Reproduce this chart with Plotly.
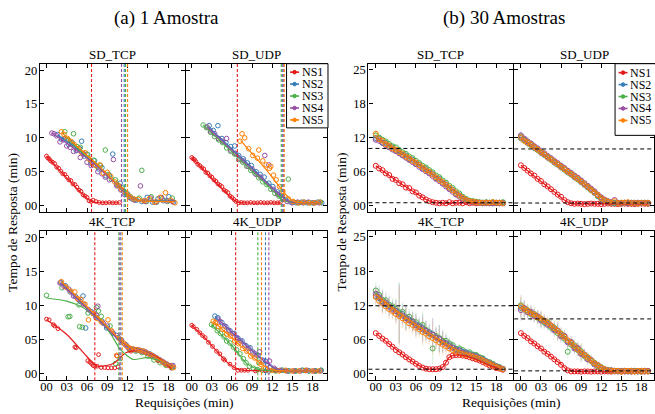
import plotly.graph_objects as go

# ---------------------------------------------------------------- settings
SERIES = ["NS1", "NS2", "NS3", "NS4", "NS5"]
COLORS = ["#e41a1c", "#377eb8", "#4daf4a", "#984ea3", "#ff7f00"]
panel_titles = ["SD_TCP", "SD_UDP", "4K_TCP", "4K_UDP"]

x_tick_vals = [0, 3, 6, 9, 12, 15, 18]
x_tick_text = ["00", "03", "06", "09", "12", "15", "18"]
y_tick_vals_1 = [0, 5, 10, 15, 20]
y_tick_text_1 = ["00", "05", "10", "15", "20"]
y_tick_vals_30 = [0, 6.25, 12.5, 18.75, 25]
y_tick_text_30 = ["00", "06", "12", "18", "25"]

# ================================================= (a) 1 Amostra, raw runs
# --- SD_TCP
a1_ns1_x = [0.0, 0.2, 0.4, 0.6, 0.9, 1.2, 1.5, 1.8, 2.1, 2.4, 2.7, 3.0, 3.3, 3.6, 3.9, 4.2, 4.5,
            4.8, 5.1, 5.4, 5.7, 6.0, 6.3, 6.6, 6.9, 7.3, 7.8, 8.3, 8.8, 9.3, 9.8, 10.3, 10.8]
a1_ns1_y = [7.3, 7.0, 6.9, 6.6, 6.4, 6.2, 5.7, 5.5, 5.1, 4.7, 4.6, 4.2, 3.8, 3.7, 3.2, 3.1, 2.7,
            2.3, 2.1, 1.6, 1.4, 1.2, 0.7, 0.6, 0.8, 0.6, 0.45, 0.4, 0.4, 0.45, 0.4, 0.4, 0.45]
a1_ns2_x = [1.6, 2.2, 2.7, 3.3, 3.8, 4.4, 4.9, 5.2, 5.6, 6.1, 6.6, 7.1, 7.7, 8.2, 8.8, 9.3, 9.8,
            10.4, 10.9, 11.4, 12.0, 12.6, 13.3, 14.1, 14.9, 15.7, 16.5, 17.3, 18.1, 18.8]
a1_ns2_y = [10.5, 9.8, 9.9, 9.0, 9.3, 8.1, 8.4, 9.5, 7.3, 7.5, 6.2, 6.6, 5.4, 5.6, 4.4, 4.5, 7.6,
            3.1, 3.3, 2.1, 1.7, 1.0, 0.8, 0.6, 1.2, 0.5, 1.0, 0.7, 1.3, 0.5]
a1_ns3_x = [2.7, 3.2, 3.7, 4.0, 4.5, 5.0, 5.5, 6.0, 6.5, 7.0, 7.5, 8.0, 8.7, 9.1, 9.6, 10.2, 10.7,
            11.2, 11.8, 12.4, 13.0, 13.7, 14.1, 14.8, 15.5, 16.3, 17.1, 17.9, 18.6]
a1_ns3_y = [10.9, 9.7, 9.1, 10.6, 8.7, 8.6, 7.6, 7.6, 6.6, 6.7, 5.8, 5.9, 8.2, 4.6, 3.9, 3.8, 2.9,
            2.6, 1.8, 1.3, 0.9, 1.1, 5.2, 0.6, 1.3, 0.5, 1.0, 0.6, 1.1]
a1_ns4_x = [0.8, 1.1, 1.5, 2.0, 2.5, 3.0, 3.5, 4.0, 4.5, 5.0, 5.5, 6.0, 6.6, 7.1, 7.6, 8.2, 8.7,
            9.3, 9.9, 10.4, 11.0, 11.6, 12.3, 13.0, 13.9, 14.6, 15.4, 16.2, 17.0, 17.8, 18.6]
a1_ns4_y = [10.7, 10.6, 10.3, 9.4, 9.7, 8.8, 8.6, 8.0, 8.2, 7.1, 7.6, 6.4, 5.9, 6.0, 5.0, 4.7, 4.2,
            3.8, 6.8, 2.9, 2.3, 1.6, 1.2, 0.8, 2.9, 0.6, 1.1, 0.5, 1.2, 0.7, 0.6]
a1_ns5_x = [2.2, 2.6, 3.1, 3.6, 4.1, 4.7, 5.2, 5.7, 6.3, 6.8, 7.3, 7.9, 8.4, 9.0, 9.5, 10.1, 10.6,
            11.1, 11.7, 12.2, 12.9, 13.6, 14.4, 15.2, 16.0, 16.8, 17.6, 18.4, 19.0]
a1_ns5_y = [10.9, 10.5, 9.9, 9.5, 9.0, 8.4, 7.8, 7.8, 6.9, 6.3, 5.9, 6.0, 4.8, 4.9, 4.3, 3.5, 3.0,
            2.4, 1.9, 1.4, 1.0, 0.9, 0.7, 1.0, 0.5, 1.2, 1.9, 0.8, 0.4]
a1_ns1_fx = [0.0, 6.6, 7.5, 10.8]
a1_ns1_fy = [7.3, 0.6, 0.45, 0.4]
a1_ns2_fx = [1.6, 4.0, 7.0, 10.0, 11.5, 12.5, 14.0, 19.0]
a1_ns2_fy = [10.4, 8.8, 6.3, 3.6, 2.1, 1.2, 0.7, 0.7]
a1_ns3_fx = [2.7, 5.0, 7.0, 10.0, 11.5, 12.5, 14.0, 19.0]
a1_ns3_fy = [10.3, 8.1, 6.4, 3.6, 2.1, 1.2, 0.7, 0.7]
a1_ns4_fx = [0.8, 4.0, 7.0, 10.0, 11.5, 12.5, 14.0, 19.0]
a1_ns4_fy = [10.7, 8.5, 6.2, 3.5, 2.1, 1.2, 0.7, 0.7]
a1_ns5_fx = [2.2, 5.0, 8.0, 10.0, 11.5, 12.5, 14.0, 19.0]
a1_ns5_fy = [10.8, 8.3, 5.6, 3.6, 2.2, 1.2, 0.7, 0.6]
a1_cut = [6.66, 11.5, 11.7, 11.1, 12.0]

# --- SD_UDP
a2_ns1_x = [0.0, 0.2, 0.4, 0.6, 0.9, 1.2, 1.5, 1.8, 2.1, 2.4, 2.7, 3.0, 3.3, 3.6, 3.9, 4.2, 4.5,
            4.8, 5.1, 5.4, 5.7, 6.0, 6.3, 6.6, 7.0, 7.4, 7.8, 8.3, 8.8, 9.3, 9.8, 10.3, 10.8,
            11.3, 11.8, 12.3, 12.8, 13.2]
a2_ns1_y = [7.1, 6.9, 6.8, 6.5, 6.1, 5.9, 5.6, 5.4, 4.9, 4.8, 4.4, 4.2, 3.8, 3.6, 3.2, 3.0, 2.8,
            2.3, 2.1, 1.9, 1.4, 1.2, 0.9, 0.6, 0.4, 0.45, 0.4, 0.4, 0.45, 0.4, 0.4, 0.45, 0.4,
            0.4, 0.45, 0.4, 0.4, 0.45]
a2_ns2_x = [2.6, 3.2, 3.9, 4.5, 5.1, 5.8, 6.4, 7.0, 7.7, 8.3, 8.9, 9.6, 10.2, 10.8, 11.5, 12.1,
            12.8, 13.4, 14.0, 14.8, 15.6, 16.4, 17.2, 18.0, 18.8, 19.4]
a2_ns2_y = [11.8, 11.1, 11.8, 9.9, 9.3, 8.7, 8.8, 7.4, 6.9, 6.3, 5.9, 5.0, 4.6, 4.2, 3.3, 2.8,
            2.0, 1.5, 0.9, 0.5, 0.4, 0.5, 0.4, 0.4, 0.5, 0.4]
a2_ns3_x = [1.7, 2.2, 2.8, 3.4, 4.0, 4.6, 5.2, 5.8, 6.4, 7.0, 7.6, 8.2, 8.8, 9.4, 10.0, 10.6,
            11.2, 11.8, 12.4, 13.0, 13.6, 14.4, 15.2, 16.0, 16.8, 17.6, 18.4, 19.2]
a2_ns3_y = [11.9, 11.5, 10.8, 10.2, 9.7, 9.3, 8.5, 8.0, 7.6, 6.8, 6.4, 5.8, 5.2, 4.8, 4.1, 3.5,
            3.1, 2.4, 1.8, 1.4, 0.9, 3.9, 0.5, 0.4, 0.5, 0.4, 0.4, 0.5]
a2_ns4_x = [2.3, 2.8, 3.4, 4.0, 4.6, 5.2, 5.8, 6.5, 7.1, 7.7, 8.4, 9.0, 9.6, 10.3, 10.9, 11.5,
            12.2, 12.8, 13.5, 14.2, 15.0, 15.8, 16.6, 17.4, 18.2, 19.0]
a2_ns4_y = [11.6, 11.0, 10.6, 9.9, 9.5, 9.9, 8.2, 7.7, 7.0, 6.6, 5.8, 5.4, 4.6, 4.2, 7.4, 6.0,
            2.4, 1.7, 1.2, 0.6, 0.4, 0.5, 0.4, 0.5, 0.4, 0.4]
a2_ns5_x = [7.2, 7.5, 7.9, 8.5, 9.1, 9.8, 10.0, 10.6, 11.1, 11.6, 11.8, 12.2, 12.6, 13.1, 13.6,
            14.4, 15.1, 15.9, 16.7, 17.5, 18.3, 19.1]
a2_ns5_y = [9.5, 10.6, 10.0, 8.4, 7.4, 7.0, 8.2, 6.6, 6.0, 5.5, 5.8, 4.5, 3.8, 2.8, 2.1,
            1.0, 0.6, 0.4, 0.5, 0.4, 0.4, 0.5]
a2_ns1_fx = [0.0, 6.6, 7.3, 13.3]
a2_ns1_fy = [7.1, 0.6, 0.42, 0.4]
a2_ns2_fx = [2.6, 8.0, 13.4, 14.6, 16.0, 19.4]
a2_ns2_fy = [11.5, 6.5, 1.4, 0.6, 0.4, 0.4]
a2_ns3_fx = [1.7, 7.0, 12.4, 13.6, 15.0, 19.4]
a2_ns3_fy = [11.9, 7.0, 1.9, 0.8, 0.45, 0.4]
a2_ns4_fx = [2.3, 8.0, 13.3, 14.4, 16.0, 19.2]
a2_ns4_fy = [11.6, 6.3, 1.4, 0.6, 0.4, 0.4]
a2_ns5_fx = [7.3, 11.0, 14.5, 15.5, 19.2]
a2_ns5_fy = [9.6, 5.4, 1.1, 0.5, 0.4]
a2_cut = [6.8, 13.5, 13.35, 13.65, 13.8]

# --- 4K_TCP
a3_ns1_x = [0.0, 0.4, 1.0, 1.2, 1.7, 4.2, 4.4, 6.1, 6.4, 6.65, 6.9, 7.15, 7.5, 7.7, 8.1, 8.6,
            9.1, 9.6, 10.1, 10.4, 10.6, 12.5, 13.5, 14.5, 15.5, 16.5, 17.5, 18.5]
a3_ns1_y = [8.0, 7.9, 7.2, 7.0, 6.6, 3.9, 3.8, 1.9, 1.7, 1.5, 1.2, 1.1, 1.1, 2.8, 0.9, 0.9,
            0.85, 0.85, 0.85, 2.6, 1.0, 3.3, 3.4, 3.1, 2.6, 1.9, 1.4, 0.8]
a3_ns2_x = [2.1, 2.8, 3.5, 4.3, 5.0, 5.4, 5.8, 6.6, 7.3, 8.2, 8.9, 9.9, 10.6, 11.1, 11.8, 12.3,
            12.8, 13.3, 13.8, 14.3, 14.8, 15.3, 15.8, 16.3, 16.8, 17.3, 17.8, 18.3, 18.7]
a3_ns2_y = [13.4, 12.9, 12.0, 11.3, 10.6, 11.4, 6.7, 9.1, 8.3, 7.7, 6.7, 5.9, 5.3, 4.9, 4.2, 3.7,
            3.6, 3.5, 3.4, 3.3, 3.1, 2.9, 2.6, 2.3, 2.0, 1.7, 1.4, 1.2, 1.0]
a3_ns3_x = [0.0, 2.3, 3.2, 3.45, 4.8, 4.9, 5.3, 6.15, 7.4, 7.7, 8.1, 9.4, 10.2, 10.9, 12.3, 13.2,
            14.1, 15.0, 15.9, 16.8, 17.7, 18.5]
a3_ns3_y = [11.5, 12.6, 8.35, 8.4, 10.1, 6.9, 6.8, 8.9, 9.7, 9.2, 8.4, 7.0, 1.5, 2.2, 3.5, 3.3,
            3.1, 2.6, 2.0, 1.6, 1.2, 0.9]
a3_ns4_x = [2.0, 2.6, 3.3, 4.0, 4.7, 5.5, 6.2, 7.0, 7.4, 7.6, 8.4, 9.0, 9.7, 10.4, 11.0, 11.6,
            12.1, 12.6, 13.1, 13.6, 14.1, 14.6, 15.1, 15.6, 16.1, 16.6, 17.1, 17.6, 18.1, 18.7]
a3_ns4_y = [13.3, 12.8, 12.4, 11.4, 10.9, 10.2, 9.4, 8.9, 8.55, 9.9, 7.4, 7.0, 6.1, 5.6, 5.0, 4.3,
            3.8, 3.6, 3.5, 3.5, 3.3, 3.2, 2.9, 2.7, 2.4, 2.1, 1.8, 1.5, 1.2, 1.2]
a3_ns5_x = [2.2, 2.9, 3.6, 4.2, 4.6, 5.1, 5.7, 6.2, 6.9, 7.5, 8.1, 9.1, 9.6, 10.4, 10.8, 11.4,
            11.9, 12.4, 12.9, 13.4, 13.9, 14.4, 14.9, 15.4, 15.9, 16.4, 16.9, 17.4, 17.9, 18.4, 18.8]
a3_ns5_y = [13.5, 12.7, 12.1, 12.0, 11.0, 10.9, 10.2, 7.9, 8.8, 8.1, 7.6, 7.9, 6.3, 2.7, 5.1, 4.5,
            4.0, 3.7, 3.6, 3.5, 3.4, 3.3, 3.0, 2.8, 2.5, 2.2, 1.9, 1.6, 1.3, 1.1, 0.9]
a3_ns1_fx = [0.0, 3.0, 5.9, 7.5, 9.9, 11.8, 14.0, 16.8, 18.5]
a3_ns1_fy = [7.9, 5.75, 2.6, 1.1, 1.5, 3.1, 3.4, 2.2, 0.7]
a3_ns2_fx = [2.1, 5.0, 8.0, 11.0, 12.8, 14.3, 16.3, 18.7]
a3_ns2_fy = [13.4, 10.6, 7.7, 4.8, 3.6, 3.35, 2.3, 1.0]
a3_ns3_fx = [0.0, 3.0, 5.4, 7.4, 9.4, 10.9, 12.8, 14.8, 16.8, 18.5]
a3_ns3_fy = [11.1, 10.65, 9.7, 8.2, 6.0, 3.6, 2.1, 2.35, 1.9, 1.1]
a3_ns4_fx = [2.0, 5.0, 8.0, 11.0, 12.8, 14.3, 16.3, 18.7]
a3_ns4_fy = [13.3, 10.5, 7.6, 4.7, 3.6, 3.35, 2.3, 1.1]
a3_ns5_fx = [2.2, 5.0, 8.0, 11.0, 12.8, 14.3, 16.3, 18.8]
a3_ns5_fy = [13.5, 10.8, 7.9, 4.9, 3.6, 3.3, 2.3, 0.9]
a3_cut = [7.15, 11.0, 10.7, 10.85, 11.2]

# --- 4K_UDP
a4_ns1_x = [0.0, 0.25, 0.75, 1.2, 1.6, 2.0, 2.5, 3.1, 3.7, 4.2, 4.7, 4.9, 5.7, 6.3, 6.9, 7.4,
            7.9, 8.4, 9.5, 11.0, 12.5, 14.0, 15.5, 17.0, 18.5]
a4_ns1_y = [7.1, 6.9, 6.5, 6.0, 5.6, 5.3, 4.6, 4.0, 3.3, 2.9, 2.2, 2.0, 1.4, 0.9, 0.5, 0.5,
            0.5, 0.5, 0.4, 0.4, 0.4, 0.4, 0.4, 0.4, 0.4]
a4_ns2_x = [3.45, 3.9, 4.5, 5.1, 5.7, 6.3, 6.9, 7.5, 8.1, 8.7, 9.3, 9.9, 10.5, 11.1, 11.7, 12.5,
            13.5, 14.5, 15.5, 16.5, 17.5, 18.5, 19.3]
a4_ns2_y = [8.45, 8.2, 7.5, 6.9, 6.3, 5.9, 5.2, 4.8, 4.1, 3.8, 3.0, 2.7, 2.0, 1.8, 1.0, 0.6,
            0.5, 0.4, 0.4, 0.5, 0.4, 0.4, 0.5]
a4_ns3_x = [2.95, 3.3, 3.8, 4.3, 4.8, 5.2, 5.7, 6.2, 6.7, 7.2, 7.7, 8.1, 8.6, 9.2, 9.8, 10.5,
            11.5, 12.5, 13.5, 14.5, 15.5, 16.5, 17.5, 18.5, 19.3]
a4_ns3_y = [7.2, 7.0, 6.3, 5.9, 5.4, 4.8, 4.5, 3.9, 3.5, 2.9, 2.2, 1.6, 1.1, 0.8, 0.6, 0.5,
            0.4, 0.4, 0.5, 0.4, 0.4, 0.5, 0.4, 0.4, 0.5]
a4_ns4_x = [3.9, 4.2, 4.9, 5.5, 6.1, 6.7, 7.3, 7.9, 8.5, 9.1, 9.7, 10.1, 10.7, 11.3, 11.6, 12.3,
            13.2, 14.2, 15.2, 16.2, 17.2, 18.2, 19.2]
a4_ns4_y = [8.0, 7.7, 7.0, 6.4, 5.9, 5.3, 4.8, 4.2, 3.7, 3.2, 2.7, 3.2, 1.9, 1.4, 1.85, 0.8,
            0.5, 0.4, 0.4, 0.4, 0.5, 0.4, 0.4]
a4_ns5_x = [3.2, 3.5, 4.0, 4.6, 5.2, 5.8, 6.4, 7.0, 7.6, 8.2, 8.8, 9.4, 10.0, 10.35, 11.0, 12.0,
            13.0, 14.0, 15.0, 16.0, 17.0, 18.0, 19.0]
a4_ns5_y = [7.7, 7.5, 6.9, 6.5, 5.8, 5.5, 4.8, 4.4, 3.7, 3.3, 2.6, 2.3, 1.6, 1.35, 0.8, 0.5,
            0.4, 0.5, 0.4, 0.4, 0.5, 0.4, 0.4]
a4_ns1_fx = [0.0, 2.0, 4.0, 5.5, 7.0, 9.0, 19.0]
a4_ns1_fy = [7.1, 5.2, 3.0, 1.5, 0.6, 0.45, 0.4]
a4_ns2_fx = [3.45, 7.0, 10.5, 12.5, 14.0, 19.3]
a4_ns2_fy = [8.4, 5.2, 2.1, 0.7, 0.45, 0.45]
a4_ns3_fx = [2.95, 6.0, 8.3, 10.0, 12.0, 19.3]
a4_ns3_fy = [7.2, 4.1, 1.4, 0.6, 0.45, 0.45]
a4_ns4_fx = [3.9, 7.0, 10.5, 12.5, 14.0, 19.2]
a4_ns4_fy = [8.0, 5.1, 2.1, 0.8, 0.45, 0.45]
a4_ns5_fx = [3.2, 6.5, 9.5, 11.5, 13.0, 19.0]
a4_ns5_fy = [7.7, 4.8, 2.1, 0.7, 0.45, 0.4]
a4_cut = [6.55, 11.0, 9.86, 11.5, 10.4]

# ============================================== (b) 30 Amostras, averages
t30 = [0.0, 0.5, 1.0, 1.5, 2.0, 2.5, 3.0, 3.5, 4.0, 4.5, 5.0, 5.5, 6.0, 6.5, 7.0, 7.5, 8.0, 8.5,
       9.0, 9.5, 10.0, 10.5, 11.0, 11.5, 12.0, 12.5, 13.0, 13.5, 14.0, 14.5, 15.0, 15.5, 16.0,
       16.5, 17.0, 17.5, 18.0, 18.5, 19.0]

# --- SD_TCP
b1_ns1 = [7.3, 6.8, 6.5, 5.9, 5.6, 4.9, 4.7, 4.1, 3.9, 3.3, 3.2, 2.6, 2.4, 1.8, 1.5, 1.1, 0.8,
          0.6, 0.5, 0.4, 0.5, 0.4, 0.6, 0.4, 0.5, 0.5, 0.4, 0.6, 0.4, 0.5, 0.4, 0.5, 0.4, 0.5,
          0.4, 0.5, 0.4, 0.5, 0.4]
b1_ns2 = [12.4, 12.3, 11.6, 11.5, 10.8, 10.7, 10.1, 10.0, 9.3, 9.2, 8.5, 8.4, 7.7, 7.5, 6.8,
          6.7, 6.0, 5.8, 5.0, 4.9, 4.1, 3.9, 3.1, 2.9, 2.1, 1.9, 1.3, 1.0, 0.8, 0.7, 0.6, 0.5,
          0.5, 0.4, 0.5, 0.4, 0.5, 0.4, 0.5]
b1_ns3 = [12.9, 12.5, 12.1, 11.8, 11.3, 10.9, 10.7, 10.2, 9.8, 9.5, 9.0, 8.7, 8.2, 7.8, 7.3,
          7.0, 6.5, 6.1, 5.5, 5.2, 4.6, 4.2, 3.6, 3.2, 2.6, 2.2, 1.6, 1.2, 0.9, 0.8, 0.7, 0.6,
          0.5, 0.6, 0.5, 0.6, 0.5, 0.5, 0.6]
b1_ns4 = [12.1, 11.9, 11.5, 11.1, 10.7, 10.3, 10.0, 9.6, 9.2, 8.8, 8.4, 8.0, 7.6, 7.1, 6.7,
          6.3, 5.9, 5.4, 4.9, 4.5, 4.0, 3.5, 3.0, 2.5, 2.0, 1.6, 1.2, 0.9, 0.7, 0.6, 0.5, 0.5,
          0.4, 0.5, 0.4, 0.4, 0.5, 0.4, 0.4]
b1_ns5 = [13.2, 12.2, 11.9, 11.3, 11.0, 10.5, 10.3, 9.8, 9.5, 9.0, 8.7, 8.2, 7.9, 7.4, 7.0,
          6.5, 6.2, 5.7, 5.2, 4.7, 4.3, 3.8, 3.3, 2.8, 2.3, 1.8, 1.4, 1.0, 0.8, 0.7, 0.6, 0.5,
          0.5, 0.5, 0.5, 0.6, 0.5, 0.5, 0.4]
b1_spread = [0.7, 0.6, 0.6, 0.5, 0.6, 0.5, 0.5, 0.6, 0.5, 0.5, 0.6, 0.5, 0.5, 0.6, 0.5, 0.5,
             0.5, 0.5, 0.4, 0.5, 0.4, 0.4, 0.4, 0.3, 0.3, 0.3, 0.3, 0.2, 0.2, 0.2, 0.2, 0.2,
             0.2, 0.2, 0.2, 0.2, 0.2, 0.2, 0.2]
b1_fit_lo_t = [0.0, 2.0, 4.0, 6.0, 7.5, 9.0, 12.0, 19.0]
b1_fit_lo = [7.3, 5.5, 3.8, 2.3, 1.1, 0.5, 0.45, 0.45]
b1_fit_hi_t = [0.0, 3.0, 6.0, 9.0, 11.0, 12.5, 14.0, 16.0, 19.0]
b1_fit_hi = [12.5, 10.3, 7.9, 5.2, 3.3, 1.8, 0.8, 0.5, 0.45]
b1_ref = [0.5, 10.5]

# --- SD_UDP
b2_ns1 = [7.4, 6.9, 6.4, 5.9, 5.5, 4.9, 4.5, 3.9, 3.5, 3.0, 2.5, 2.0, 1.6, 1.0, 0.6, 0.4, 0.3,
          0.35, 0.3, 0.25, 0.3, 0.35, 0.3, 0.3, 0.25, 0.3, 0.35, 0.3, 0.3, 0.25, 0.3, 0.35,
          0.3, 0.3, 0.25, 0.3, 0.35, 0.3, 0.3]
b2_ns2 = [12.4, 12.1, 11.5, 11.3, 10.6, 10.3, 9.7, 9.3, 8.8, 8.5, 7.9, 7.5, 7.0, 6.7, 6.1,
          5.7, 5.2, 4.9, 4.3, 3.8, 3.3, 2.9, 2.3, 1.7, 1.2, 0.9, 0.6, 0.5, 0.4, 0.5, 0.4, 0.4,
          0.5, 0.4, 0.4, 0.5, 0.4, 0.4, 0.5]
b2_ns3 = [12.7, 12.0, 11.7, 11.1, 10.8, 10.2, 9.9, 9.4, 9.0, 8.4, 8.1, 7.6, 7.2, 6.6, 6.3,
          5.8, 5.4, 4.8, 4.5, 3.9, 3.5, 2.8, 2.5, 1.8, 1.4, 1.0, 0.7, 0.5, 0.5, 0.4, 0.5, 0.5,
          0.4, 0.5, 0.5, 0.4, 0.5, 0.5, 0.4]
b2_ns4 = [12.9, 12.3, 11.8, 11.4, 10.9, 10.5, 10.0, 9.6, 9.1, 8.7, 8.2, 7.8, 7.3, 6.9, 6.4,
          6.0, 5.5, 5.1, 4.6, 4.1, 3.6, 3.1, 2.6, 2.0, 1.5, 1.1, 0.8, 0.6, 1.0, 0.5, 0.4, 0.5,
          0.4, 0.5, 0.4, 0.5, 0.4, 0.5, 0.4]
b2_ns5 = [12.5, 11.9, 11.6, 11.2, 10.7, 10.3, 9.8, 9.4, 8.9, 8.5, 8.0, 7.6, 7.1, 6.7, 6.2,
          5.8, 5.3, 4.9, 4.4, 3.9, 3.4, 2.9, 2.4, 1.9, 1.3, 1.0, 0.7, 0.5, 0.8, 0.4, 0.5, 0.5,
          0.6, 0.4, 0.5, 0.4, 0.5, 0.4, 0.5]
b2_spread = [0.9, 0.8, 0.9, 0.7, 0.8, 0.7, 0.8, 0.7, 0.8, 0.7, 0.8, 0.7, 0.7, 0.8, 0.7, 0.7,
             0.8, 0.7, 0.6, 0.7, 0.6, 0.6, 0.5, 0.5, 0.4, 0.4, 0.3, 0.3, 0.3, 0.2, 0.2, 0.2,
             0.2, 0.2, 0.2, 0.2, 0.2, 0.2, 0.2]
b2_fit_lo_t = [0.0, 3.0, 5.0, 6.5, 7.5, 9.0, 19.0]
b2_fit_lo = [7.4, 4.4, 2.5, 1.0, 0.35, 0.3, 0.3]
b2_fit_hi_t = [0.0, 3.0, 6.0, 9.0, 11.0, 12.5, 13.5, 15.0, 19.0]
b2_fit_hi = [12.5, 9.8, 7.1, 4.4, 2.6, 1.0, 0.5, 0.45, 0.45]
b2_ref = [0.45, 10.4]

# --- 4K_TCP
b3_ns1 = [7.4, 6.9, 6.4, 6.0, 5.4, 4.9, 4.3, 3.9, 3.5, 3.0, 2.6, 2.2, 1.8, 1.4, 1.1, 0.9, 0.8,
          0.8, 0.8, 0.9, 1.2, 2.0, 3.0, 3.3, 3.4, 3.4, 3.3, 3.2, 3.0, 2.8, 2.6, 2.4, 2.1, 1.8,
          1.5, 1.3, 1.0, 0.9, 0.7]
b3_ns2 = [14.2, 13.8, 13.2, 12.7, 12.3, 12.0, 11.5, 11.2, 10.9, 10.2, 9.9, 9.6, 9.0, 8.8, 8.4,
          7.8, 7.6, 7.2, 6.6, 6.4, 5.9, 5.6, 5.2, 4.8, 4.5, 4.3, 4.0, 3.9, 3.6, 3.4, 3.3, 2.9,
          2.7, 2.3, 2.0, 1.7, 1.4, 1.1, 0.9]
b3_ns3 = [15.2, 14.4, 13.5, 13.4, 12.6, 12.3, 11.8, 11.0, 11.3, 10.3, 10.4, 9.5, 9.4, 8.6, 8.9,
          8.0, 7.4, 4.6, 6.9, 6.5, 6.0, 6.0, 5.5, 5.2, 4.4, 4.6, 4.3, 3.7, 3.9, 3.5, 3.4, 3.0,
          2.8, 2.2, 2.1, 1.8, 1.3, 1.2, 0.8]
b3_ns4 = [14.6, 14.0, 13.1, 13.0, 12.2, 11.7, 11.4, 10.8, 10.6, 10.1, 9.7, 9.4, 8.8, 8.5, 8.1,
          7.8, 7.3, 7.1, 6.6, 6.3, 5.7, 5.5, 5.0, 4.7, 4.3, 4.2, 3.8, 3.7, 3.4, 3.3, 3.1, 2.8,
          2.5, 2.2, 1.9, 1.6, 1.3, 1.1, 0.8]
b3_ns5 = [14.0, 13.3, 12.8, 12.3, 11.8, 11.4, 10.9, 10.5, 10.1, 9.7, 9.2, 8.9, 8.4, 8.1, 7.6,
          7.3, 6.8, 6.5, 6.1, 5.7, 5.3, 5.0, 4.6, 4.3, 4.0, 3.8, 3.6, 3.4, 3.3, 3.1, 2.9, 2.7,
          2.4, 2.1, 1.8, 1.5, 1.2, 1.0, 0.8]
b3_spread = [1.5, 1.8, 2.0, 1.5, 1.8, 1.5, 2.0, 5.5, 1.8, 2.2, 1.5, 1.8, 2.0, 1.5, 2.5, 1.8,
             1.5, 3.0, 1.8, 2.5, 2.0, 1.5, 1.2, 1.0, 0.8, 0.8, 0.7, 0.7, 0.6, 0.6, 0.6, 0.5,
             0.5, 0.5, 0.4, 0.4, 0.4, 0.3, 0.3]
b3_fit_lo_t = [0.0, 2.0, 4.0, 6.0, 7.5, 9.0, 10.0, 11.0, 12.0, 13.5, 15.0, 17.0, 19.0]
b3_fit_lo = [7.4, 5.4, 3.5, 1.8, 0.9, 0.8, 1.2, 3.0, 3.4, 3.2, 2.6, 1.5, 0.7]
b3_fit_hi_t = [0.0, 3.0, 6.0, 9.0, 12.0, 15.0, 17.0, 19.0]
b3_fit_hi = [14.5, 11.6, 9.0, 6.6, 4.4, 3.0, 2.0, 0.8]
b3_ref = [0.8, 12.4]

# --- 4K_UDP
b4_ns1 = [7.4, 6.9, 6.5, 5.9, 5.5, 5.0, 4.6, 4.0, 3.6, 3.1, 2.6, 2.1, 1.6, 1.0, 0.6, 0.4, 0.4,
          0.4, 0.35, 0.4, 0.4, 0.35, 0.4, 0.4, 0.35, 0.4, 0.4, 0.35, 0.4, 0.4, 0.35, 0.4, 0.4,
          0.35, 0.4, 0.4, 0.35, 0.4, 0.4]
b4_ns2 = [12.0, 11.9, 11.3, 11.1, 10.6, 10.4, 9.8, 9.5, 9.1, 8.7, 8.1, 7.8, 7.0, 6.8, 5.9, 5.7,
          4.8, 4.5, 3.7, 3.4, 2.7, 2.4, 1.7, 1.5, 1.0, 0.7, 0.6, 0.5, 0.5, 0.4, 0.5, 0.5, 0.4,
          0.5, 0.5, 0.4, 0.5, 0.5, 0.4]
b4_ns3 = [12.5, 11.7, 11.6, 10.9, 10.9, 10.2, 10.0, 9.3, 9.4, 8.4, 8.4, 7.4, 7.3, 6.4, 4.0,
          5.3, 5.2, 4.3, 4.1, 3.2, 3.0, 2.3, 2.0, 1.3, 1.2, 0.8, 0.7, 0.6, 0.5, 0.5, 0.4, 0.5,
          0.5, 0.4, 0.5, 0.5, 0.4, 0.5, 0.5]
b4_ns4 = [11.6, 12.0, 11.2, 11.3, 10.5, 10.5, 9.7, 9.7, 8.9, 8.8, 7.9, 7.9, 6.8, 6.9, 5.7, 5.8,
          4.6, 4.7, 3.6, 3.5, 2.6, 2.5, 1.7, 1.6, 1.0, 0.8, 0.6, 0.6, 0.5, 0.5, 0.5, 0.4, 0.5,
          0.5, 0.4, 0.5, 0.5, 0.4, 0.5]
b4_ns5 = [12.3, 11.8, 11.5, 11.0, 10.8, 10.3, 10.1, 9.6, 9.3, 8.8, 8.3, 7.8, 7.2, 6.7, 6.1, 5.6,
          5.0, 4.4, 3.9, 3.4, 2.9, 2.4, 1.9, 1.5, 1.1, 0.8, 0.6, 0.5, 0.5, 0.5, 0.4, 0.5, 0.5,
          0.5, 0.4, 0.5, 0.5, 0.5, 0.4]
b4_spread = [2.0, 1.5, 1.2, 1.3, 1.2, 1.2, 1.5, 1.2, 1.1, 1.2, 1.2, 1.6, 1.2, 1.1, 1.2, 1.1,
             1.1, 1.2, 1.5, 1.1, 1.0, 0.9, 0.8, 0.6, 0.5, 0.4, 0.3, 0.3, 0.2, 0.2, 0.2, 0.2,
             0.2, 0.2, 0.2, 0.2, 0.2, 0.2, 0.2]
b4_fit_lo_t = [0.0, 2.0, 4.0, 6.0, 7.0, 8.0, 19.0]
b4_fit_lo = [7.4, 5.5, 3.6, 1.7, 0.6, 0.4, 0.4]
b4_fit_hi_t = [0.0, 3.0, 5.0, 7.0, 9.0, 11.0, 12.5, 14.0, 19.0]
b4_fit_hi = [12.2, 10.1, 8.3, 6.1, 3.9, 1.9, 0.8, 0.5, 0.45]
b4_ref = [0.5, 10.0]

# ---------------------------------------------------------------- assembly
one_sample = [
    [(a1_ns1_x, a1_ns1_y, a1_ns1_fx, a1_ns1_fy), (a1_ns2_x, a1_ns2_y, a1_ns2_fx, a1_ns2_fy),
     (a1_ns3_x, a1_ns3_y, a1_ns3_fx, a1_ns3_fy), (a1_ns4_x, a1_ns4_y, a1_ns4_fx, a1_ns4_fy),
     (a1_ns5_x, a1_ns5_y, a1_ns5_fx, a1_ns5_fy)],
    [(a2_ns1_x, a2_ns1_y, a2_ns1_fx, a2_ns1_fy), (a2_ns2_x, a2_ns2_y, a2_ns2_fx, a2_ns2_fy),
     (a2_ns3_x, a2_ns3_y, a2_ns3_fx, a2_ns3_fy), (a2_ns4_x, a2_ns4_y, a2_ns4_fx, a2_ns4_fy),
     (a2_ns5_x, a2_ns5_y, a2_ns5_fx, a2_ns5_fy)],
    [(a3_ns1_x, a3_ns1_y, a3_ns1_fx, a3_ns1_fy), (a3_ns2_x, a3_ns2_y, a3_ns2_fx, a3_ns2_fy),
     (a3_ns3_x, a3_ns3_y, a3_ns3_fx, a3_ns3_fy), (a3_ns4_x, a3_ns4_y, a3_ns4_fx, a3_ns4_fy),
     (a3_ns5_x, a3_ns5_y, a3_ns5_fx, a3_ns5_fy)],
    [(a4_ns1_x, a4_ns1_y, a4_ns1_fx, a4_ns1_fy), (a4_ns2_x, a4_ns2_y, a4_ns2_fx, a4_ns2_fy),
     (a4_ns3_x, a4_ns3_y, a4_ns3_fx, a4_ns3_fy), (a4_ns4_x, a4_ns4_y, a4_ns4_fx, a4_ns4_fy),
     (a4_ns5_x, a4_ns5_y, a4_ns5_fx, a4_ns5_fy)],
]
one_cuts = [a1_cut, a2_cut, a3_cut, a4_cut]

thirty = [
    ([b1_ns1, b1_ns2, b1_ns3, b1_ns4, b1_ns5], b1_spread,
     (b1_fit_lo_t, b1_fit_lo), (b1_fit_hi_t, b1_fit_hi), b1_ref),
    ([b2_ns1, b2_ns2, b2_ns3, b2_ns4, b2_ns5], b2_spread,
     (b2_fit_lo_t, b2_fit_lo), (b2_fit_hi_t, b2_fit_hi), b2_ref),
    ([b3_ns1, b3_ns2, b3_ns3, b3_ns4, b3_ns5], b3_spread,
     (b3_fit_lo_t, b3_fit_lo), (b3_fit_hi_t, b3_fit_hi), b3_ref),
    ([b4_ns1, b4_ns2, b4_ns3, b4_ns4, b4_ns5], b4_spread,
     (b4_fit_lo_t, b4_fit_lo), (b4_fit_hi_t, b4_fit_hi), b4_ref),
]

W, H = 655, 414
FONT = "Liberation Serif"


def px_x(p):
    return p / W


def px_y(p):
    return 1 - p / H


def rgba(hex_color, a):
    h = hex_color.lstrip("#")
    return "rgba(%d,%d,%d,%.2f)" % (int(h[0:2], 16), int(h[2:4], 16), int(h[4:6], 16), a)


# pixel boxes (left, right, top, bottom) and axis ranges of the eight panels
boxes = [(40, 185, 63, 212), (186, 328, 63, 212), (40, 185, 231, 381), (186, 328, 231, 381),
         (369, 514, 63, 212), (515, 655, 63, 212), (369, 514, 231, 381), (515, 655, 231, 381)]
x_ranges = [[-0.97, 20.45], [-0.9, 20.25], [-0.97, 20.45], [-0.9, 20.25],
            [-1.1, 20.55], [-1.0, 19.9], [-1.1, 20.55], [-1.0, 19.9]]
y_range_1 = [-0.95, 20.95]
y_range_30 = [-1.2, 26.1]

fig = go.Figure()
shapes = []
annotations = []
axes = {}

for i in range(8):
    n = i + 1
    xa = "x" if n == 1 else "x%d" % n
    ya = "y" if n == 1 else "y%d" % n
    l, r, t, b = boxes[i]
    group_one = i < 4
    col_left = i % 2 == 0
    bottom_row = (i % 4) >= 2
    common = dict(showline=True, linecolor="black", linewidth=1.3, mirror="ticks",
                  ticks="inside", ticklen=4, tickwidth=1, tickcolor="black",
                  showgrid=False, zeroline=False,
                  tickfont=dict(family=FONT, size=12.5, color="black"))
    axes["xaxis" if n == 1 else "xaxis%d" % n] = dict(
        common, domain=[px_x(l), px_x(r)], anchor=ya, range=x_ranges[i],
        tickvals=x_tick_vals, ticktext=x_tick_text, showticklabels=bottom_row,
        ticklabelstandoff=-5)
    axes["yaxis" if n == 1 else "yaxis%d" % n] = dict(
        common, domain=[px_y(b), px_y(t)], anchor=xa,
        range=y_range_1 if group_one else y_range_30,
        tickvals=y_tick_vals_1 if group_one else y_tick_vals_30,
        ticktext=y_tick_text_1 if group_one else y_tick_text_30,
        showticklabels=col_left, ticklabelstandoff=-1)
    annotations.append(dict(text=panel_titles[i % 4], x=px_x((l + r) / 2), y=px_y(t - 9.5),
                            xref="paper", yref="paper", showarrow=False,
                            xanchor="center", yanchor="middle",
                            font=dict(family=FONT, size=13, color="black")))

    if group_one:
        runs = one_sample[i]
        for k in range(5):
            xs, ys, _, _ = runs[k]
            fig.add_trace(go.Scatter(
                x=xs, y=ys, mode="markers", xaxis=xa, yaxis=ya, showlegend=False,
                marker=dict(symbol="circle-open", size=3.8 if k == 0 else 4.6,
                            color=COLORS[k], line=dict(width=1, color=COLORS[k]))))
        for k in range(5):
            _, _, fxs, fys = runs[k]
            fig.add_trace(go.Scatter(
                x=fxs, y=fys, mode="lines", xaxis=xa, yaxis=ya, showlegend=False,
                line=dict(color=COLORS[k], width=1.2, shape="spline", smoothing=0.7)))
        for k in range(5):
            shapes.append(dict(type="line", xref=xa, yref=ya + " domain",
                               x0=one_cuts[i][k], x1=one_cuts[i][k], y0=0, y1=1,
                               line=dict(color=COLORS[k], width=1.1, dash="3px,2px"),
                               layer="above"))
    else:
        series, spread, fit_lo, fit_hi, refs = thirty[i - 4]
        for k in range(5):
            err = None
            if k > 0:
                err = dict(type="data", array=spread, visible=True, thickness=1.2, width=0,
                           color=rgba(COLORS[k], 0.16))
            fig.add_trace(go.Scatter(
                x=t30, y=series[k], mode="markers", xaxis=xa, yaxis=ya, showlegend=False,
                error_y=err,
                marker=dict(symbol="circle-open", size=5, color=COLORS[k],
                            line=dict(width=1, color=COLORS[k]))))
        for k in range(5):
            ft, fv = fit_lo if k == 0 else fit_hi
            fig.add_trace(go.Scatter(
                x=ft, y=fv, mode="lines", xaxis=xa, yaxis=ya, showlegend=False,
                line=dict(color=COLORS[k], width=1.2, shape="spline", smoothing=0.7)))
        for v in refs:
            shapes.append(dict(type="line", xref=xa + " domain", yref=ya,
                               x0=0, x1=1, y0=v, y1=v,
                               line=dict(color="black", width=1, dash="4px,3px"),
                               layer="above"))


# legends drawn as boxed keys in the SD_UDP panels
def add_key(left, right, top, bottom, rows, sym0, sym1, text_x):
    shapes.append(dict(type="rect", xref="paper", yref="paper",
                       x0=px_x(left), x1=px_x(right), y0=px_y(bottom), y1=px_y(top),
                       line=dict(color="black", width=1), fillcolor="white", layer="above"))
    for k, name in enumerate(SERIES):
        yy = rows[k]
        shapes.append(dict(type="line", xref="paper", yref="paper",
                           x0=px_x(sym0), x1=px_x(sym1), y0=px_y(yy), y1=px_y(yy),
                           line=dict(color=COLORS[k], width=1.6), layer="above"))
        cx = (sym0 + sym1) / 2
        shapes.append(dict(type="circle", xref="paper", yref="paper",
                           x0=px_x(cx - 1.8), x1=px_x(cx + 1.8),
                           y0=px_y(yy + 1.8), y1=px_y(yy - 1.8),
                           line=dict(color=COLORS[k], width=1), fillcolor=COLORS[k],
                           layer="above"))
        annotations.append(dict(text=name, x=px_x(text_x), y=px_y(yy), xref="paper",
                                yref="paper", showarrow=False, xanchor="left",
                                yanchor="middle", borderpad=0,
                                font=dict(family=FONT, size=12, color="black")))


add_key(287, 328.5, 63, 127.5, [71.5, 83.5, 95.5, 107.5, 119.5], 290.5, 299.5, 301)
add_key(616, 660, 63, 135, [72, 84, 96, 108, 120], 619.5, 628.5, 629.5)

# group headings and axis titles
for text, cx in [("(a) 1 Amostra", 167), ("(b) 30 Amostras", 505)]:
    annotations.append(dict(text=text, x=px_x(cx), y=px_y(17.5), xref="paper", yref="paper",
                            showarrow=False, xanchor="center", yanchor="middle",
                            font=dict(family=FONT, size=19, color="black")))
for cx in [185, 512]:
    annotations.append(dict(text="Requisições (min)", x=px_x(cx), y=px_y(403),
                            xref="paper", yref="paper", showarrow=False,
                            xanchor="center", yanchor="middle",
                            font=dict(family=FONT, size=13.5, color="black")))
for cx in [13, 342]:
    annotations.append(dict(text="Tempo de Resposta (min)", x=px_x(cx), y=px_y(222),
                            xref="paper", yref="paper", showarrow=False, textangle=-90,
                            xanchor="center", yanchor="middle",
                            font=dict(family=FONT, size=13.5, color="black")))

fig.update_layout(width=W, height=H, margin=dict(l=0, r=0, t=0, b=0),
                  paper_bgcolor="white", plot_bgcolor="white", showlegend=False,
                  shapes=shapes, annotations=annotations, **axes)

fig.write_html("out.html")
